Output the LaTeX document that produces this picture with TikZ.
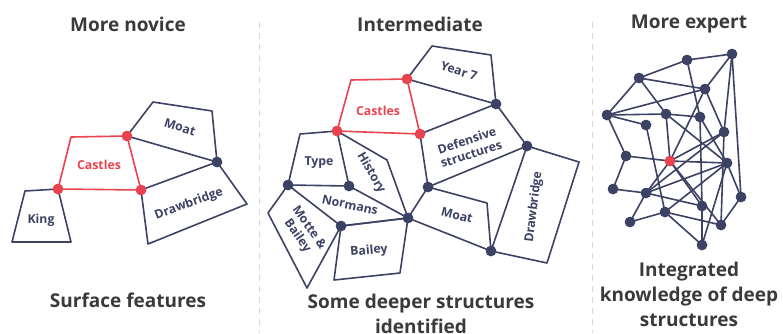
\documentclass[tikz,border=0pt]{standalone}
\usepackage{fontspec}
\setmainfont{Open Sans}
\definecolor{navy}{HTML}{3B4263}
\definecolor{castlered}{HTML}{E8434F}
\definecolor{titlegrey}{HTML}{3A3A3A}
\definecolor{sepgrey}{HTML}{D8D8D8}
\begin{document}
\begin{tikzpicture}[x=1pt,y=-1pt,
  edge/.style={draw=navy,line width=1.6pt,line join=round},
  redge/.style={draw=castlered,line width=1.6pt,line join=round},
  hub/.style={circle,fill=navy,inner sep=0pt,minimum size=10.5pt},
  rhub/.style={circle,fill=castlered,inner sep=0pt,minimum size=10.5pt},
  lbl/.style={font=\fontsize{12.3}{14}\selectfont\bfseries,text=navy,inner sep=0pt,align=center},
  rlbl/.style={lbl,text=castlered},
  twolbl/.style={lbl,font=\fontsize{12.3}{14}\selectfont\bfseries},
  head/.style={font=\fontsize{19}{25}\selectfont\bfseries,text=titlegrey,align=center,inner sep=0pt},
  sepline/.style={draw=sepgrey,line width=1pt,dash pattern=on 6pt off 5pt}]
\useasboundingbox (0,0) rectangle (783,333);

% ---- panel separators ----
\coordinate (s1t) at (259,22);  \coordinate (s1b) at (259,333);
\coordinate (s2t) at (592,22);  \coordinate (s2b) at (592,333);
\draw[sepline] (s1t) -- (s1b);
\draw[sepline] (s2t) -- (s2b);

% ---- headings and captions ----
\node[head] (h1) at (128,24) {More novice};
\node[head] (h2) at (420,24) {Intermediate};
\node[head] (h3) at (689,24) {More expert};
\node[head] (c1) at (128,300) {Surface features};
\node[head] (c2) at (421,314) {Some deeper structures\\identified};
\node[head] (c3) at (689,294) {Integrated\\knowledge of deep\\structures};

% ================= novice =================
\coordinate (nCtl) at (71,137);
\coordinate (nMt1) at (153,102);
\coordinate (nMt2) at (212,111);
\coordinate (nDb1) at (247,204);
\coordinate (nDb2) at (148,244);
\coordinate (nKtl) at (25,191);
\coordinate (nKbl) at (12,242);
\coordinate (nKbr) at (71,242);
\node[rhub] (nCbl) at (58,189) {};
\node[rhub] (nCtr) at (127,136) {};
\node[rhub] (nCbr) at (141,190) {};
\node[hub]  (nX)   at (217,162) {};

\draw[edge] (nCtr.center) -- (nMt1) -- (nMt2) -- (nX.center) -- cycle;
\draw[edge] (nCbr.center) -- (nX.center) -- (nDb1) -- (nDb2) -- cycle;
\draw[edge] (nCbl.center) -- (nKtl) -- (nKbl) -- (nKbr) -- cycle;
\draw[redge] (nCtl) -- (nCtr.center) -- (nCbr.center) -- (nCbl.center) -- cycle;
\foreach \n in {nCbl,nCtr,nCbr} \node[rhub] at (\n) {};
\node[hub] at (nX) {};

\node[rlbl] (nLc) at (99,165) {Castles};
\node[lbl]  (nLk) at (41,220) {King};
\node[lbl,rotate=-18] (nLm) at (180,127) {Moat};
\node[lbl,rotate=20]  (nLd) at (189,204) {Drawbridge};

% ================= intermediate =================
\coordinate (iCtl) at (351,80);
\coordinate (iY1) at (432,46);
\coordinate (iY2) at (491,55);
\coordinate (iDb1) at (579,162);
\coordinate (iDb2) at (547,263);
\coordinate (iMo1) at (487,203);
\coordinate (iTy1) at (300,134);
\coordinate (iHi1) at (387,160);
\coordinate (iMb1) at (268,213);
\coordinate (iMb2) at (307,288);
\coordinate (iBa1) at (400,273);
\coordinate (iBa2) at (334,280);
\node[rhub] (iCtr) at (407,79) {};
\node[rhub] (iCbr) at (420,134) {};
\node[rhub] (iCbl) at (337,131) {};
\node[hub] (iA) at (496,104) {};
\node[hub] (iB) at (527,146) {};
\node[hub] (iC) at (428,187) {};
\node[hub] (iD) at (491,251) {};
\node[hub] (iE) at (408,218) {};
\node[hub] (iF) at (349,186) {};
\node[hub] (iG) at (288,185) {};
\node[hub] (iH) at (341,226) {};

\draw[edge] (iCtr.center) -- (iY1) -- (iY2) -- (iA.center) -- cycle;
\draw[edge] (iCbr.center) -- (iA.center) -- (iB.center) -- (iC.center) -- cycle;
\draw[edge] (iB.center) -- (iDb1) -- (iDb2) -- (iD.center) -- cycle;
\draw[edge] (iC.center) -- (iMo1) -- (iD.center) -- (iE.center) -- cycle;
\draw[edge] (iTy1) -- (iCbl.center) -- (iF.center) -- (iG.center) -- cycle;
\draw[edge] (iCbl.center) -- (iHi1) -- (iE.center) -- (iF.center);
\draw[edge] (iG.center) -- (iH.center) -- (iE.center);
\draw[edge] (iG.center) -- (iMb1) -- (iMb2) -- (iH.center);
\draw[edge] (iH.center) -- (iE.center) -- (iBa1) -- (iBa2) -- cycle;
\draw[redge] (iCtl) -- (iCtr.center) -- (iCbr.center) -- (iCbl.center) -- cycle;
\foreach \n in {iCtr,iCbr,iCbl} \node[rhub] at (\n) {};
\foreach \n in {iA,iB,iC,iD,iE,iF,iG,iH} \node[hub] at (\n) {};

\node[rlbl] (iLc) at (378,111) {Castles};
\node[lbl,rotate=-18] (iLy) at (459,71) {Year 7};
\node[twolbl,rotate=18] (iLd) at (469,147) {Defensive\\structures};
\node[lbl,rotate=83] (iLdb) at (534,207) {Drawbridge};
\node[lbl,rotate=-15] (iLm) at (457,215) {Moat};
\node[lbl] (iLt) at (319,163) {Type};
\node[lbl,rotate=-60] (iLh) at (371,173) {History};
\node[lbl,rotate=-12] (iLn) at (350,205) {Normans};
\node[twolbl,rotate=-55] (iLmb) at (303,232) {Motte \&\\Bailey};
\node[lbl,rotate=5] (iLb) at (369,251) {Bailey};

% ================= expert =================
\foreach \i/\x/\y in {1/687/60, 2/732/54, 3/639/78, 4/705/89, 5/607/115,
  6/666/114, 7/700/117, 8/646/125, 9/724/132, 10/626/156,
  12/727/163, 13/613/189, 14/646/193, 15/741/197, 16/702/206,
  17/665/212, 18/630/222, 19/721/225, 20/702/245}
  \node[hub] (x\i) at (\x,\y) {};
\node[rhub] (x11) at (670,161) {};

\foreach \a/\b in {1/2, 1/3, 1/7, 2/4, 2/9, 2/15, 3/4, 3/5, 3/6, 4/5,
  4/9, 5/6, 5/8, 5/10, 6/7, 6/11, 6/12, 7/16, 7/12, 8/17,
  10/11, 10/13, 11/4, 11/9, 11/12, 11/14, 11/19, 13/14, 14/9, 14/12,
  14/18, 14/16, 12/17, 12/15, 12/20, 16/20, 17/18, 17/19, 17/20, 9/19,
  15/19, 11/16}
  \draw[edge] (x\a.center) -- (x\b.center);
\foreach \i in {1,2,3,4,5,6,7,8,9,10,12,13,14,15,16,17,18,19,20}
  \node[hub] at (x\i) {};
\node[rhub] at (x11) {};
\end{tikzpicture}
\end{document}
